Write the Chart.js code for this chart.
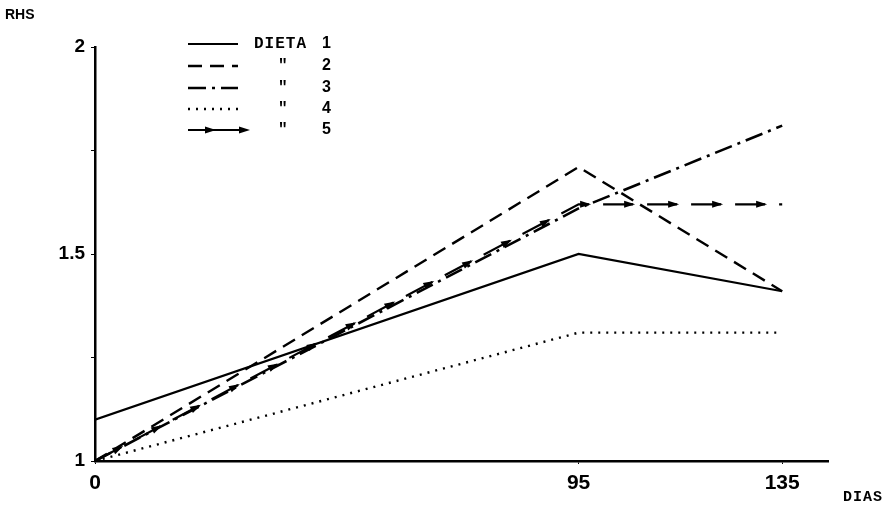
<!DOCTYPE html>
<html>
<head>
<meta charset="utf-8">
<script src="https://cdn.jsdelivr.net/npm/chart.js@4.4.1/dist/chart.umd.min.js"></script>
<style>
  html, body { margin: 0; padding: 0; background: #fff; }
  #wrap { width: 896px; height: 510px; position: relative; }
</style>
</head>
<body>
<div id="wrap"><canvas id="rhsChart"></canvas></div>
<script>
// days of measurement
const dias = [0, 95, 135];
const xTicks = [0, 95, 135];
const yTicks = [1, 1.25, 1.5, 1.75, 2];
const yLabels = ['1', '', '1.5', '', '2'];

// RHS per diet
const dieta1 = [1.10, 1.50, 1.41];
const dieta2 = [1.00, 1.71, 1.41];
const dieta3 = [1.00, 1.61, 1.81];
const dieta4 = [1.00, 1.31, 1.31];
const dieta5 = [1.00, 1.62, 1.62];

const legendNames = ['DIETA', '"', '"', '"', '"'];
const legendNums = ['1', '2', '3', '4', '5'];

function pts(vals) {
    return vals.map((v, i) => ({ x: dias[i], y: v }));
}

const arrowPeriod = 44, arrowDash = 30;

// arrowheads along dieta 5 + hand drawn legend + axis titles
const decor = {
    id: 'decor',
    afterDatasetsDraw(chart) {
        const ctx = chart.ctx;
        const p = chart.getDatasetMeta(4).data;
        ctx.save();
        ctx.fillStyle = '#000';
        let acc = 0, next = arrowDash;
        for (let i = 0; i < p.length - 1; i++) {
            const dx = p[i+1].x - p[i].x, dy = p[i+1].y - p[i].y;
            const len = Math.hypot(dx, dy);
            const ux = dx / len, uy = dy / len;
            while (next <= acc + len) {
                const t = next - acc;
                arrow(ctx, p[i].x + ux * t, p[i].y + uy * t, ux, uy);
                next += arrowPeriod;
            }
            acc += len;
        }
        ctx.restore();
    },
    afterDraw(chart) {
        const ctx = chart.ctx;
        ctx.save();
        const rows = [44, 66, 88, 109, 130];
        chart.data.datasets.forEach((ds, i) => {
            const y = rows[i];
            ctx.strokeStyle = '#000';
            ctx.lineWidth = ds.borderWidth;
            ctx.setLineDash(i === 4 ? [] : (ds.borderDash || []));
            ctx.beginPath();
            ctx.moveTo(188, y);
            ctx.lineTo(i === 4 ? 244 : 238, y);
            ctx.stroke();
            if (i === 4) {
                ctx.fillStyle = '#000';
                arrow(ctx, 214, y, 1, 0);
                arrow(ctx, 248, y, 1, 0);
            }
            ctx.fillStyle = '#000';
            ctx.textBaseline = 'middle';
            ctx.textAlign = 'left';
            ctx.font = 'bold 16px "Liberation Mono", "DejaVu Sans Mono", monospace';
            ctx.letterSpacing = '1px';
            ctx.fillText(legendNames[i], i === 0 ? 254 : 278, y);
            ctx.letterSpacing = '0px';
            ctx.font = 'bold 16px "Liberation Sans", Arial, sans-serif';
            ctx.fillText(legendNums[i], 322, y);
        });
        ctx.setLineDash([]);
        ctx.font = 'bold 14px "Liberation Sans", Arial, sans-serif';
        ctx.fillText('RHS', 5, 15);
        ctx.font = 'bold 15px "Liberation Mono", "DejaVu Sans Mono", monospace';
        ctx.letterSpacing = '1px';
        ctx.fillText('DIAS', 843, 497);
        ctx.restore();
    }
};

function arrow(ctx, x, y, ux, uy) {
    const l = 9, w = 3.5;
    ctx.beginPath();
    ctx.moveTo(x + ux * 2, y + uy * 2);
    ctx.lineTo(x - ux * l - uy * w, y - uy * l + ux * w);
    ctx.lineTo(x - ux * l + uy * w, y - uy * l - ux * w);
    ctx.closePath();
    ctx.fill();
}

new Chart(document.getElementById('rhsChart'), {
    type: 'line',
    data: {
        datasets: [
            { label: 'Dieta 1', data: pts(dieta1), borderColor: '#000', borderWidth: 2.2, borderDash: [] },
            { label: 'Dieta 2', data: pts(dieta2), borderColor: '#000', borderWidth: 2.4, borderDash: [14, 8] },
            { label: 'Dieta 3', data: pts(dieta3), borderColor: '#000', borderWidth: 2.6, borderDash: [18, 6, 3, 6] },
            { label: 'Dieta 4', data: pts(dieta4), borderColor: '#000', borderWidth: 2.4, borderDash: [2, 6] },
            { label: 'Dieta 5', data: pts(dieta5), borderColor: '#000', borderWidth: 2.2, borderDash: [arrowDash, arrowPeriod - arrowDash] }
        ]
    },
    options: {
        responsive: true,
        maintainAspectRatio: false,
        animation: false,
        layout: { padding: { top: 47, right: 68, left: 0, bottom: 0 } },
        elements: { point: { radius: 0 }, line: { tension: 0, fill: false } },
        plugins: { legend: { display: false }, tooltip: { enabled: false } },
        scales: {
            x: {
                type: 'linear',
                min: 0,
                max: 144,
                afterBuildTicks(scale) { scale.ticks = xTicks.map(v => ({ value: v })); },
                afterFit(scale) { scale.height = 49; },
                border: { color: '#000', width: 2.5 },
                grid: { drawOnChartArea: false, color: '#000', tickLength: 3 },
                ticks: {
                    color: '#000',
                    padding: 7,
                    maxRotation: 0,
                    font: { family: '"Liberation Sans", Arial, sans-serif', size: 21, weight: 'bold' }
                }
            },
            y: {
                min: 1,
                max: 2,
                afterBuildTicks(scale) { scale.ticks = yTicks.map(v => ({ value: v })); },
                afterFit(scale) { scale.width = 95; },
                border: { color: '#000', width: 2.5 },
                grid: { drawOnChartArea: false, color: '#000', tickLength: 4 },
                ticks: {
                    color: '#000',
                    padding: 6,
                    callback: (v) => yLabels[yTicks.indexOf(v)],
                    font: { family: '"Liberation Sans", Arial, sans-serif', size: 19, weight: 'bold' }
                }
            }
        }
    },
    plugins: [decor]
});
</script>
</body>
</html>
